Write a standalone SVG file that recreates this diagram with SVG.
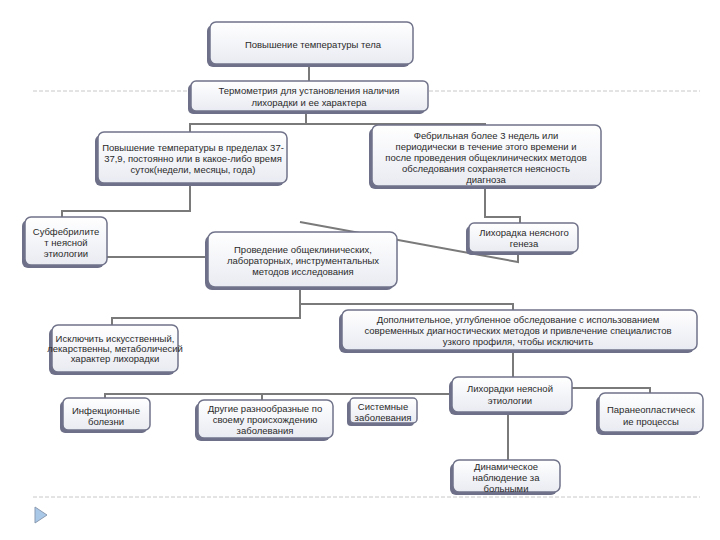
<svg xmlns="http://www.w3.org/2000/svg" width="720" height="540" viewBox="0 0 720 540">
<defs>
<linearGradient id="g" x1="0" y1="0" x2="0" y2="1">
<stop offset="0" stop-color="#ffffff"/>
<stop offset="1" stop-color="#e9ebf2"/>
</linearGradient>
<style>
.sh{fill:#6d7088}
.bx{fill:url(#g);stroke:#70738a;stroke-width:1.5}
.t{font-family:"Liberation Sans",Arial,sans-serif;font-size:9.5px;fill:#2a2a2a;text-anchor:middle}
.c{fill:none;stroke:#7a7a7a;stroke-width:2}
.d{fill:none;stroke:#c8c8c8;stroke-width:1;stroke-dasharray:4 2}
</style>
</defs>
<rect width="720" height="540" fill="#ffffff"/>
<line class="d" x1="33" y1="91" x2="700" y2="91"/>
<line class="d" x1="33" y1="497" x2="700" y2="497"/>
<polygon points="35,507 47,515 35,523" fill="#a9c8e8" stroke="#8a9ab0" stroke-width="1"/>
<g id="connectors">
<polyline class="c" points="309,64 309,81"/>
<polyline class="c" points="306,111 306,124"/>
<polyline class="c" points="190,132 190,124 485,124 485,125"/>
<polyline class="c" points="190,183 190,211 62,211 62,217"/>
<polyline class="c" points="485,186 485,217 520,217 520,223"/>
<polyline class="c" points="107,257 208,257"/>
<polyline class="c" points="300,222 518,262 518,252"/>
<polyline class="c" points="300,287 300,318 112,318 112,325"/>
<polyline class="c" points="300,304 513,304 513,310"/>
<polyline class="c" points="513,350 513,377"/>
<polyline class="c" points="105,398 105,394 452,394"/>
<polyline class="c" points="262,394 262,400"/>
<polyline class="c" points="572,388 650,388 650,393"/>
<polyline class="c" points="508,412 508,460"/>
</g>
<g id="n1"><rect class="sh" x="207" y="25" width="203" height="42" rx="6"/><rect class="bx" x="210" y="22" width="203" height="42" rx="6"/>
<text class="t" x="313" y="48">Повышение температуры тела</text></g>
<g id="n2"><rect class="sh" x="188" y="84" width="237" height="30" rx="5"/><rect class="bx" x="191" y="81" width="237" height="30" rx="5"/>
<text class="t" x="309" y="94">Термометрия для установления наличия</text>
<text class="t" x="309" y="106">лихорадки и ее характера</text></g>
<g id="n3"><rect class="sh" x="95" y="135" width="189" height="51" rx="6"/><rect class="bx" x="98" y="132" width="189" height="51" rx="6"/>
<text class="t" x="193" y="151" font-size="8.6">Повышение температуры в пределах 37-</text>
<text class="t" x="193" y="162" font-size="8.6">37,9, постоянно или в какое-либо время</text>
<text class="t" x="193" y="173" font-size="8.6">суток(недели, месяцы, года)</text></g>
<g id="n4"><rect class="sh" x="369" y="128" width="229" height="61" rx="6"/><rect class="bx" x="372" y="125" width="229" height="61" rx="6"/>
<text class="t" x="486" y="139">Фебрильная более 3 недель или</text>
<text class="t" x="486" y="150">периодически в течение этого времени и</text>
<text class="t" x="486" y="161">после проведения общеклинических методов</text>
<text class="t" x="486" y="172">обследования сохраняется неясность</text>
<text class="t" x="486" y="183">диагноза</text></g>
<g id="n5"><rect class="sh" x="22" y="220" width="82" height="48" rx="6"/><rect class="bx" x="25" y="217" width="82" height="48" rx="6"/>
<text class="t" x="66" y="235">Субфебрилите</text>
<text class="t" x="66" y="246">т неясной</text>
<text class="t" x="66" y="257">этиологии</text></g>
<g id="n6"><rect class="sh" x="205" y="235" width="189" height="55" rx="7"/><rect class="bx" x="208" y="232" width="189" height="55" rx="7"/>
<text class="t" x="303" y="253">Проведение общеклинических,</text>
<text class="t" x="303" y="264">лабораторных, инструментальных</text>
<text class="t" x="303" y="275">методов исследования</text></g>
<g id="n7"><rect class="sh" x="466" y="226" width="109" height="29" rx="5"/><rect class="bx" x="469" y="223" width="109" height="29" rx="5"/>
<text class="t" x="524" y="236">Лихорадка неясного</text>
<text class="t" x="524" y="247">генеза</text></g>
<g id="n8"><rect class="sh" x="339" y="313" width="355" height="40" rx="6"/><rect class="bx" x="342" y="310" width="355" height="40" rx="6"/>
<text class="t" x="518" y="323">Дополнительное, углубленное обследование с использованием</text>
<text class="t" x="518" y="334">современных диагностических методов и привлечение специалистов</text>
<text class="t" x="518" y="345">узкого профиля, чтобы исключить</text></g>
<g id="n9"><rect class="sh" x="49" y="328" width="126" height="47" rx="6"/><rect class="bx" x="52" y="325" width="126" height="47" rx="6"/>
<text class="t" x="115" y="342" font-size="7.2">Исключить искусственный,</text>
<text class="t" x="115" y="352" font-size="7.2">лекарственны, метаболичесий</text>
<text class="t" x="115" y="362" font-size="7.2">характер лихорадки</text></g>
<g id="n10"><rect class="sh" x="449" y="380" width="120" height="35" rx="6"/><rect class="bx" x="452" y="377" width="120" height="35" rx="6"/>
<text class="t" x="510" y="392">Лихорадки неясной</text>
<text class="t" x="510" y="404">этиологии</text></g>
<g id="n11"><rect class="sh" x="60" y="401" width="87" height="32" rx="5"/><rect class="bx" x="63" y="398" width="87" height="32" rx="5"/>
<text class="t" x="106" y="414">Инфекционные</text>
<text class="t" x="106" y="425">болезни</text></g>
<g id="n12"><rect class="sh" x="195" y="403" width="135" height="38" rx="6"/><rect class="bx" x="198" y="400" width="135" height="38" rx="6"/>
<text class="t" x="265" y="412">Другие разнообразные по</text>
<text class="t" x="265" y="423">своему происхождению</text>
<text class="t" x="265" y="434">заболевания</text></g>
<g id="n13"><rect class="sh" x="347" y="401" width="67" height="25" rx="4"/><rect class="bx" x="350" y="398" width="67" height="25" rx="4"/>
<text class="t" x="383" y="410">Системные</text>
<text class="t" x="383" y="421">заболевания</text></g>
<g id="n14"><rect class="sh" x="596" y="396" width="104" height="39" rx="6"/><rect class="bx" x="599" y="393" width="104" height="39" rx="6"/>
<text class="t" x="651" y="413">Паранеопластическ</text>
<text class="t" x="651" y="425">ие процессы</text></g>
<g id="n15"><rect class="sh" x="450" y="463" width="107" height="32" rx="6"/><rect class="bx" x="453" y="460" width="107" height="32" rx="6"/>
<text class="t" x="506" y="470">Динамическое</text>
<text class="t" x="506" y="481">наблюдение за</text>
<text class="t" x="506" y="492">больными</text></g>
</svg>
